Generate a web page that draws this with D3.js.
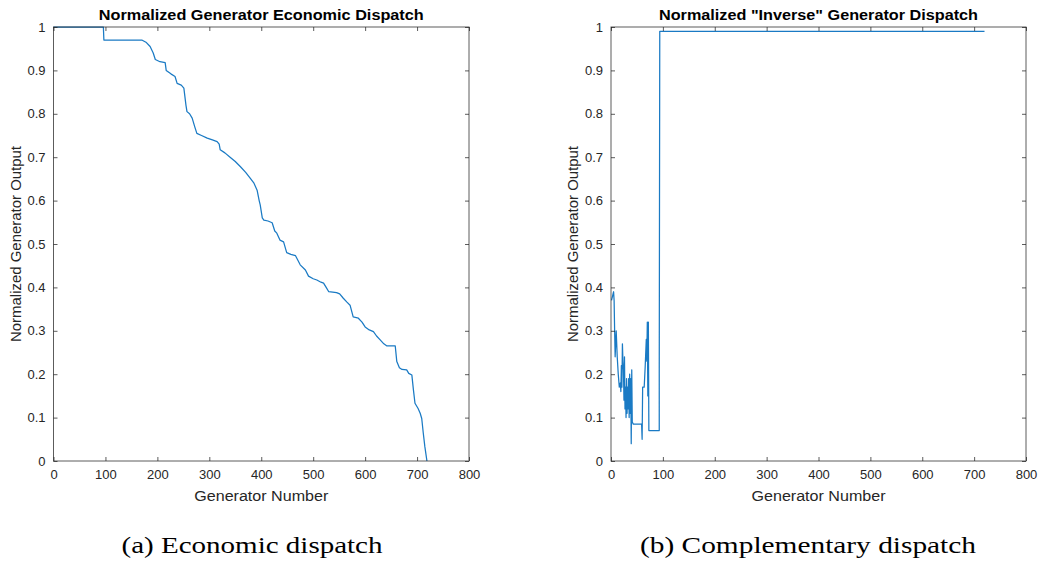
<!DOCTYPE html>
<html>
<head>
<meta charset="utf-8">
<script src="https://cdn.jsdelivr.net/npm/d3@7"></script>
<style>
  html, body { margin: 0; padding: 0; background: #fff; }
  svg { display: block; }
  text { font-family: "Liberation Sans", Arial, sans-serif; }
</style>
</head>
<body>
<svg id="chart" width="1042" height="561"></svg>
<script>
// ---------- data ----------
const xTicks = [0, 100, 200, 300, 400, 500, 600, 700, 800];
const yTicks = [0, 0.1, 0.2, 0.3, 0.4, 0.5, 0.6, 0.7, 0.8, 0.9, 1];

// (a) economic dispatch: generator index vs normalized output
const econX = [0, 96, 97, 170, 178, 186, 192, 196, 205, 215, 217, 226, 234, 238, 246, 251, 255, 257, 262, 267, 272, 276, 285, 296, 306, 315, 319, 321, 330, 340, 350, 360, 370, 379, 386, 392, 396, 398, 402, 405, 413, 421, 426, 430, 436, 443, 449, 457, 466, 475, 485, 491, 500, 507, 515, 520, 525, 530, 545, 551, 558, 565, 571, 577, 587, 594, 600, 608, 616, 622, 629, 636, 642, 658, 661, 666, 671, 680, 684, 690, 693, 696, 702, 706, 709, 712, 715, 719];
const econY = [1, 1, 0.97, 0.97, 0.965, 0.955, 0.94, 0.925, 0.92, 0.918, 0.9, 0.892, 0.886, 0.87, 0.866, 0.859, 0.82, 0.805, 0.8, 0.79, 0.77, 0.755, 0.75, 0.744, 0.74, 0.736, 0.73, 0.717, 0.71, 0.7, 0.69, 0.678, 0.665, 0.651, 0.64, 0.624, 0.6, 0.59, 0.56, 0.555, 0.553, 0.549, 0.53, 0.525, 0.509, 0.505, 0.48, 0.476, 0.473, 0.452, 0.44, 0.426, 0.42, 0.417, 0.412, 0.41, 0.4, 0.39, 0.388, 0.385, 0.375, 0.366, 0.359, 0.332, 0.329, 0.32, 0.309, 0.302, 0.298, 0.288, 0.279, 0.27, 0.265, 0.265, 0.229, 0.215, 0.211, 0.21, 0.202, 0.198, 0.164, 0.133, 0.121, 0.11, 0.098, 0.064, 0.033, 0];

// (b) "inverse" / complementary dispatch
const invX = [1, 3, 5, 6, 7, 8, 10, 12, 14, 16, 18, 19, 20, 21, 22, 23, 24, 25, 26, 27, 28, 29, 30, 31, 32, 33, 34, 35, 36, 37, 38, 39, 40, 41, 43, 59, 60, 61, 64, 66, 68, 69, 70, 71, 72, 73, 93, 93, 94, 720];
const invY = [0.37, 0.38, 0.39, 0.37, 0.30, 0.24, 0.30, 0.24, 0.20, 0.17, 0.18, 0.16, 0.22, 0.17, 0.27, 0.23, 0.21, 0.14, 0.24, 0.12, 0.17, 0.10, 0.19, 0.11, 0.17, 0.12, 0.19, 0.10, 0.20, 0.11, 0.19, 0.04, 0.21, 0.09, 0.085, 0.085, 0.05, 0.17, 0.17, 0.22, 0.28, 0.23, 0.32, 0.15, 0.32, 0.07, 0.07, 0.2, 0.99, 0.99];

const titles = ["Normalized Generator Economic Dispatch", "Normalized \"Inverse\" Generator Dispatch"];
const xLabel = "Generator Number";
const yLabel = "Normalized Generator Output";
const captions = ["(a) Economic dispatch", "(b) Complementary dispatch"];

// ---------- drawing ----------
const svg = d3.select("#chart");
const panels = [
  { left: 53.5, right: 469, top: 27, bottom: 461, xs: econX, ys: econY, title: titles[0], caption: captions[0], titleW: 325, capCx: 252, capW: 261 },
  { left: 611, right: 1026, top: 27, bottom: 461, xs: invX, ys: invY, title: titles[1], caption: captions[1], titleW: 319, capCx: 808, capW: 336 }
];

const axisColor = "#262626";
const lineColor = "#1a7ac4";

panels.forEach(p => {
  const x = d3.scaleLinear().domain([0, 800]).range([p.left, p.right]);
  const y = d3.scaleLinear().domain([0, 1]).range([p.bottom, p.top]);
  const g = svg.append("g");
  const tl = 4;

  // data line
  const pts = p.xs.map((v, i) => [v, p.ys[i]]);
  g.append("path")
    .datum(pts)
    .attr("fill", "none")
    .attr("stroke", lineColor)
    .attr("stroke-width", 1.25)
    .attr("stroke-linejoin", "round")
    .attr("d", d3.line().x(d => x(d[0])).y(d => y(d[1])));

  // box
  g.append("rect")
    .attr("x", p.left).attr("y", p.top)
    .attr("width", p.right - p.left).attr("height", p.bottom - p.top)
    .attr("fill", "none").attr("stroke", axisColor).attr("stroke-opacity", 0.75).attr("stroke-width", 1);

  // axes with inward ticks
  const xb = d3.axisBottom(x).tickValues(xTicks).tickSize(-tl).tickPadding(9).tickFormat(d3.format("d"));
  const xt = d3.axisTop(x).tickValues(xTicks).tickSize(-tl).tickFormat("");
  const yl = d3.axisLeft(y).tickValues(yTicks).tickSize(-tl).tickPadding(8).tickFormat(d => d === 0 || d === 1 ? String(d) : d3.format(".1f")(d));
  const yr = d3.axisRight(y).tickValues(yTicks).tickSize(-tl).tickFormat("");

  const styleAxis = sel => {
    sel.select(".domain").remove();
    sel.selectAll("line").attr("stroke", axisColor).attr("stroke-opacity", 0.75);
    sel.selectAll("text").attr("fill", axisColor).style("font-size", "13px").style("font-family", "'Liberation Sans', Arial, sans-serif");
  };
  g.append("g").attr("transform", `translate(0,${p.bottom})`).call(xb).call(styleAxis);
  g.append("g").attr("transform", `translate(0,${p.top})`).call(xt).call(styleAxis);
  g.append("g").attr("transform", `translate(${p.left},0)`).call(yl).call(styleAxis);
  g.append("g").attr("transform", `translate(${p.right},0)`).call(yr).call(styleAxis);

  const cx = (p.left + p.right) / 2;
  // title
  g.append("text")
    .attr("x", cx).attr("y", 20)
    .attr("text-anchor", "middle")
    .attr("font-weight", "bold")
    .attr("font-size", 14)
    .attr("fill", "#000")
    .attr("textLength", p.titleW).attr("lengthAdjust", "spacingAndGlyphs")
    .text(p.title);

  // x label
  g.append("text")
    .attr("x", cx).attr("y", 501)
    .attr("text-anchor", "middle")
    .attr("font-size", 14)
    .attr("fill", axisColor)
    .attr("textLength", 134).attr("lengthAdjust", "spacingAndGlyphs")
    .text(xLabel);

  // y label
  g.append("text")
    .attr("transform", `translate(${p.left - 33},${(p.top + p.bottom) / 2}) rotate(-90)`)
    .attr("text-anchor", "middle")
    .attr("font-size", 14)
    .attr("fill", axisColor)
    .attr("textLength", 196).attr("lengthAdjust", "spacingAndGlyphs")
    .text(yLabel);

  // caption
  svg.append("text")
    .attr("x", p.capCx).attr("y", 553)
    .attr("text-anchor", "middle")
    .attr("font-size", 23)
    .attr("fill", "#000")
    .style("font-family", "'Liberation Serif', 'Times New Roman', serif")
    .attr("textLength", p.capW).attr("lengthAdjust", "spacingAndGlyphs")
    .text(p.caption);
});
</script>
</body>
</html>
